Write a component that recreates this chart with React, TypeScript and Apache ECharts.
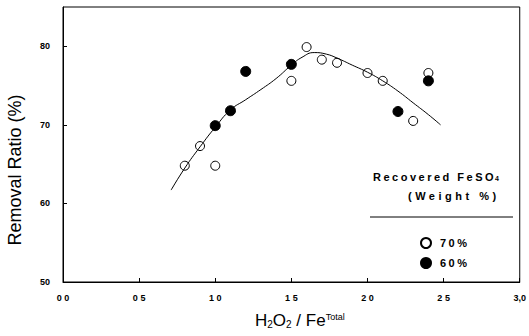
import React, { useEffect, useRef } from "react";
import * as echarts from "echarts";

const xTickLabels = ["0 0", "0 5", "1 0", "1 5", "2 0", "2 5", "3,0"];
const yTickLabels = ["50", "60", "70", "80"];

const open70X = [0.8, 0.9, 1.0, 1.5, 1.6, 1.7, 1.8, 2.0, 2.1, 2.3, 2.4];
const open70Y = [64.8, 67.3, 64.8, 75.6, 79.9, 78.3, 77.9, 76.6, 75.6, 70.5, 76.6];

const filled60X = [1.0, 1.1, 1.2, 1.5, 2.2, 2.4];
const filled60Y = [69.9, 71.8, 76.8, 77.7, 71.7, 75.6];

const fitX = [0.71, 0.8, 0.9, 1.0, 1.1, 1.2, 1.3, 1.4, 1.5, 1.57, 1.65, 1.73, 1.8, 1.9, 2.0, 2.1, 2.2, 2.3, 2.4, 2.48];
const fitY = [61.7, 64.5, 67.2, 69.7, 71.9, 73.2, 74.5, 75.9, 77.6, 78.6, 79.2, 79.0, 78.5, 77.6, 76.7, 75.6, 74.3, 72.8, 71.3, 70.0];

const zip = (xs: number[], ys: number[]) => xs.map((x, i) => [x, ys[i]]);

const SPACED = "#010101";
const SPACED2 = "#020202";

export default function App() {
  const ref = useRef<HTMLDivElement>(null);
  useEffect(() => {
    if (!ref.current) return;
    const chart = echarts.init(ref.current, null, { renderer: "svg" });
    const font = "Liberation Sans";
    chart.setOption({
      animation: false,
      backgroundColor: "#fff",
      grid: {
        left: 63,
        right: 5,
        top: 7,
        bottom: 54,
        show: true,
        borderColor: "#000",
        borderWidth: 1,
      },
      xAxis: {
        type: "value",
        min: 0,
        max: 3,
        interval: 0.5,
        axisLine: { lineStyle: { color: "#000", width: 1 } },
        axisTick: { inside: true, length: 4, lineStyle: { color: "#000" } },
        splitLine: { show: false },
        axisLabel: {
          margin: 11,
          fontSize: 9,
          fontWeight: "bold",
          fontFamily: font,
          color: "#000",
          formatter: (v: number) => xTickLabels[Math.round(v / 0.5)] ?? "",
        },
      },
      yAxis: {
        type: "value",
        min: 50,
        max: 85,
        interval: 10,
        axisLine: { show: true, lineStyle: { color: "#000", width: 1 } },
        axisTick: { show: true, inside: true, length: 4, lineStyle: { color: "#000" } },
        splitLine: { show: false },
        axisLabel: {
          margin: 13,
          fontSize: 9,
          fontWeight: "bold",
          fontFamily: font,
          color: "#000",
          showMaxLabel: false,
          formatter: (v: number) => {
            const i = Math.round((v - 50) / 10);
            return Math.abs(v - (50 + i * 10)) < 1e-6 ? yTickLabels[i] ?? "" : "";
          },
        },
      },
      legend: {
        data: ["70%", "60%"],
        orient: "vertical",
        left: 415,
        top: 232,
        itemWidth: 10,
        itemHeight: 10,
        itemGap: 8,
        textStyle: { fontSize: 11, fontWeight: "bold", fontFamily: font, color: SPACED, padding: [0, 0, 0, 4] },
      },
      graphic: [
        {
          type: "text",
          left: 373,
          top: 171,
          style: {
            text: "Recovered FeSO{s|4}",
            font: `bold 11px "${font}"`,
            fill: SPACED,
            rich: {
              s: {
                fontSize: 7,
                fontWeight: "bold",
                fontFamily: font,
                verticalAlign: "bottom",
                fill: "#000",
                padding: [0, 0, 0, 34],
              },
            },
          },
        },
        {
          type: "text",
          left: 408,
          top: 190,
          style: { text: "(Weight %)", font: `bold 11px "${font}"`, fill: SPACED2 },
        },
        {
          type: "line",
          shape: { x1: 370, y1: 217, x2: 513, y2: 217 },
          style: { stroke: "#000", lineWidth: 1 },
        },
        {
          type: "text",
          x: 15,
          y: 170,
          rotation: Math.PI / 2,
          style: {
            text: "Removal Ratio (%)",
            font: `18px "${font}"`,
            fill: "#000",
            align: "center",
            verticalAlign: "middle",
          },
        },
        {
          type: "text",
          left: 255,
          top: 312,
          style: {
            text: "H{s|2}O{s|2} / Fe{p|Total}",
            font: `17px "${font}"`,
            fill: "#000",
            rich: {
              s: { fontSize: 10, fontFamily: font, verticalAlign: "bottom", fill: "#000" },
              p: { fontSize: 9, fontFamily: font, verticalAlign: "top", fill: "#000" },
            },
          },
        },
      ],
      series: [
        {
          name: "fit",
          type: "line",
          smooth: true,
          showSymbol: false,
          symbol: "none",
          lineStyle: { color: "#000", width: 1 },
          data: zip(fitX, fitY),
          z: 1,
        },
        {
          name: "70%",
          type: "scatter",
          symbol: "circle",
          symbolSize: 9,
          itemStyle: { color: "rgba(255,255,255,0)", borderColor: "#000", borderWidth: 1, opacity: 1 },
          data: zip(open70X, open70Y),
          z: 3,
        },
        {
          name: "60%",
          type: "scatter",
          symbol: "circle",
          symbolSize: 10,
          itemStyle: { color: "#000", borderColor: "#000", borderWidth: 1, opacity: 1 },
          data: zip(filled60X, filled60Y),
          z: 2,
        },
      ],
    });
    return () => chart.dispose();
  }, []);
  const css = `
    text[fill="${SPACED}"], text[fill="rgb(1,1,1)"] { letter-spacing: 2.5px; }
    text[fill="${SPACED2}"], text[fill="rgb(2,2,2)"] { letter-spacing: 3.5px; }
  `;
  return (
    <>
      <style>{css}</style>
      <div
        ref={ref}
        style={{ position: "absolute", left: 0, top: 0, width: 529, height: 336 }}
      />
    </>
  );
}
